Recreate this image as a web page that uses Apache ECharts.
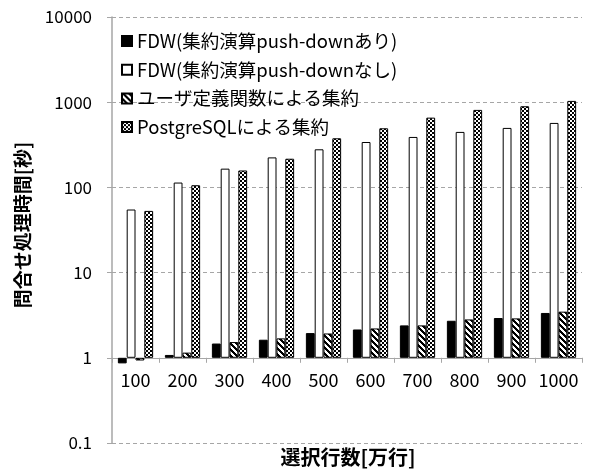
<!DOCTYPE html>
<html>
<head>
<meta charset="utf-8">
<script src="https://cdn.jsdelivr.net/npm/echarts@6/dist/echarts.min.js"></script>
<style>
  html, body { margin: 0; padding: 0; background: #fff; }
  #chart { width: 589px; height: 470px; }
</style>
</head>
<body>
<div id="chart"></div>
<script>
// Selected rows (x 10,000 rows)
const categories = ['100', '200', '300', '400', '500', '600', '700', '800', '900', '1000'];

// Query processing time in seconds
const fdwPushdown   = [0.86, 1.08, 1.47, 1.63, 1.95, 2.15, 2.4, 2.72, 2.93, 3.36];
const fdwNoPushdown = [55, 114, 166, 225, 280, 341, 391, 448, 499, 571];
const udfAggregate  = [0.93, 1.15, 1.53, 1.69, 1.93, 2.21, 2.4, 2.82, 2.9, 3.48];
const pgAggregate   = [53, 106, 158, 217, 377, 494, 659, 812, 896, 1036];

const seriesNames = [
  'FDW(集約演算push-downあり)',
  'FDW(集約演算push-downなし)',
  'ユーザ定義関数による集約',
  'PostgreSQLによる集約'
];

const FONT = "'Noto Sans CJK JP', 'Noto Sans', sans-serif";

// Small tiled fills: diagonal hatching and a fine checkerboard
function makePattern(size, isInk) {
  const c = document.createElement('canvas');
  c.width = size; c.height = size;
  const ctx = c.getContext('2d');
  ctx.fillStyle = '#fff';
  ctx.fillRect(0, 0, size, size);
  ctx.fillStyle = '#000';
  for (let y = 0; y < size; y++) {
    for (let x = 0; x < size; x++) {
      if (isInk(x, y)) ctx.fillRect(x, y, 1, 1);
    }
  }
  return { image: c, repeat: 'repeat' };
}
const hatch = makePattern(6, (x, y) => ((x - y + 12) % 6) < 3);
const checker = makePattern(4, (x, y) => ((Math.floor(x / 2) + Math.floor(y / 2)) % 2) === 0);

const fills = ['#000000', '#ffffff', hatch, checker];
const values = [fdwPushdown, fdwNoPushdown, udfAggregate, pgAggregate];

const chart = echarts.init(document.getElementById('chart'), null, { renderer: 'canvas' });

const GRID_TOP = 17, GRID_HEIGHT = 426;

chart.setOption({
  animation: false,
  backgroundColor: '#fff',
  textStyle: { fontFamily: FONT, color: '#000' },
  title: {
    text: '選択行数[万行]',
    left: 348,
    textAlign: 'center',
    top: 447,
    padding: 0,
    textStyle: { fontFamily: FONT, fontSize: 20, fontWeight: 'bold', color: '#000' }
  },
  legend: {
    orient: 'vertical',
    left: 121,
    top: 31,
    padding: 0,
    itemWidth: 10,
    itemHeight: 10,
    itemGap: 8.7,
    icon: 'rect',
    textStyle: { fontFamily: FONT, fontSize: 18.5, color: '#000', lineHeight: 20 },
    data: seriesNames
  },
  grid: { left: 112, right: 7, top: GRID_TOP, height: GRID_HEIGHT },
  xAxis: {
    type: 'category',
    data: categories,
    position: 'bottom',
    // the category axis crosses the value axis at 1 (one decade above the bottom)
    offset: -GRID_HEIGHT / 5,
    axisLine: { lineStyle: { color: '#a6a6a6', width: 1 } },
    axisTick: { show: true, length: 5, lineStyle: { color: '#a6a6a6' } },
    axisLabel: { fontFamily: FONT, fontSize: 18, color: '#000', margin: 13, interval: 0 },
    splitLine: { show: false }
  },
  yAxis: {
    type: 'log',
    logBase: 10,
    min: 0.1,
    max: 10000,
    name: '問合せ処理時間[秒]',
    nameLocation: 'middle',
    nameGap: 80,
    nameTextStyle: { fontFamily: FONT, fontSize: 19, fontWeight: 'bold', color: '#000', padding: [0, 0, 0, 10] },
    axisLine: { show: true, lineStyle: { color: '#a6a6a6', width: 1.5 } },
    axisTick: { show: true, length: 5, lineStyle: { color: '#a6a6a6' } },
    axisLabel: {
      fontFamily: FONT, fontSize: 17, color: '#000', margin: 20,
      formatter: v => String(+Number(v).toPrecision(6))
    },
    splitLine: { show: true, lineStyle: { color: '#a6a6a6', type: [4, 3], width: 1 } }
  },
  series: seriesNames.map((name, i) => ({
    name,
    type: 'bar',
    data: values[i],
    barGap: '0%',
    barCategoryGap: '25%',
    itemStyle: { color: fills[i], borderColor: '#000', borderWidth: 1 }
  }))
});
</script>
</body>
</html>
